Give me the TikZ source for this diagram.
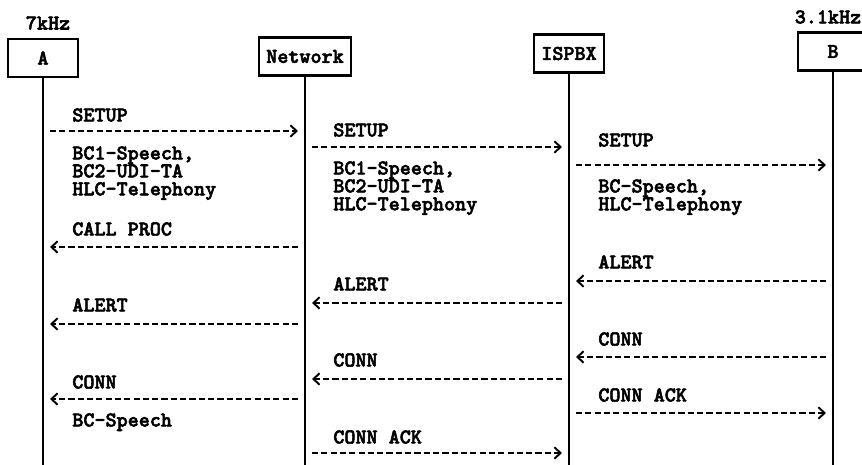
\documentclass[tikz,border=0pt]{standalone}
\usepackage{fontspec}
\usepackage{tikz}
\usetikzlibrary{arrows.meta, positioning, calc}
\newfontfamily\seqfont[FakeBold=2.5]{lmmonolt10-bold.otf}
\tikzset{
  entity/.style={draw, line width=1.2pt, minimum width=1.4cm, minimum height=0.76cm,
                 inner xsep=0.14cm, font=\seqfont\fontsize{12}{10}\selectfont},
  life/.style={line width=1.2pt},
  msg/.style={-{Straight Barb[length=3.5pt,width=6.5pt]}, line width=1.1pt,
              dash pattern=on 3.5pt off 1.8pt, shorten <=0.14cm, shorten >=0.14cm},
  lbl/.style={anchor=north west, inner sep=0pt, align=left,
              font=\seqfont\fontsize{12}{10.2}\selectfont},
  rate/.style={inner sep=0pt, font=\seqfont\fontsize{12}{10}\selectfont},
}
\begin{document}
\begin{tikzpicture}[x=0.02cm, y=-0.02cm]
  \useasboundingbox (0,0) rectangle (862,465);

  %% ── entities ──
  \node[entity] (A)   at (43,58)    {A};
  \node[entity] (N)   at (305,56.5) {Network};
  \node[entity] (I)   at (569,53.5) {ISPBX};
  \node[entity] (B)   at (833,51.5) {B};
  \node[rate]   (rA)  at (48,23)    {7kHz};
  \node[rate]   (rB)  at (828,17)   {3.1kHz};

  %% ── lifelines ──
  \coordinate (bot) at (0,465);
  \draw[life] (A.south) -- (A.south |- bot);
  \draw[life] (N.south) -- (N.south |- bot);
  \draw[life] (I.south) -- (I.south |- bot);
  \draw[life] (B.south) -- (B.south |- bot);

  %% ── A <-> Network ──
  \node[lbl] (t1) at (72,108) {SETUP};
  \draw[msg] (A |- 0,131) -- (N |- 0,131);
  \node[lbl] (t2) at (72,146) {BC1-Speech,\\BC2-UDI-TA\\HLC-Telephony};
  \node[lbl] (t3) at (72,222) {CALL PROC};
  \draw[msg] (N |- 0,247) -- (A |- 0,247);
  \node[lbl] (t4) at (72,298) {ALERT};
  \draw[msg] (N |- 0,324) -- (A |- 0,324);
  \node[lbl] (t5) at (72,375) {CONN};
  \draw[msg] (N |- 0,399) -- (A |- 0,399);
  \node[lbl] (t6) at (72,413) {BC-Speech};

  %% ── Network <-> ISPBX ──
  \node[lbl] (u1) at (333,123) {SETUP};
  \draw[msg] (N |- 0,147) -- (I |- 0,147);
  \node[lbl] (u2) at (333,161) {BC1-Speech,\\BC2-UDI-TA\\HLC-Telephony};
  \node[lbl] (u3) at (333,277) {ALERT};
  \draw[msg] (I |- 0,303) -- (N |- 0,303);
  \node[lbl] (u4) at (333,353) {CONN};
  \draw[msg] (I |- 0,379) -- (N |- 0,379);
  \node[lbl] (u5) at (333,430) {CONN ACK};
  \draw[msg] (N |- 0,453) -- (I |- 0,453);

  %% ── ISPBX <-> B ──
  \node[lbl] (v1) at (598,133) {SETUP};
  \draw[msg] (I |- 0,165) -- (B |- 0,165);
  \node[lbl] (v2) at (598,179) {BC-Speech,\\HLC-Telephony};
  \node[lbl] (v3) at (598,255) {ALERT};
  \draw[msg] (B |- 0,281) -- (I |- 0,281);
  \node[lbl] (v4) at (598,332) {CONN};
  \draw[msg] (B |- 0,357) -- (I |- 0,357);
  \node[lbl] (v5) at (598,388) {CONN ACK};
  \draw[msg] (I |- 0,413) -- (B |- 0,413);
\end{tikzpicture}
\end{document}
